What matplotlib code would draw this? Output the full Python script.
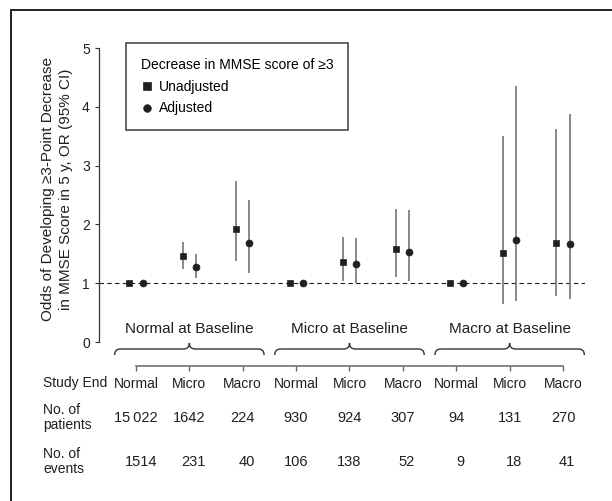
import matplotlib
matplotlib.use('Agg')
import matplotlib.pyplot as plt
from matplotlib.lines import Line2D
from matplotlib.path import Path
from matplotlib import patches, transforms
import numpy as np

plt.rcParams['font.family'] = ['Liberation Sans', 'DejaVu Sans']

# data
baseline_groups = ['Normal at Baseline', 'Micro at Baseline', 'Macro at Baseline']
study_end = ['Normal', 'Micro', 'Macro'] * 3

unadj = [1.00, 1.46, 1.93, 1.00, 1.355, 1.59, 1.00, 1.51, 1.68]
unadj_lo = [np.nan, 1.25, 1.37, np.nan, 1.04, 1.105, np.nan, 0.64, 0.79]
unadj_hi = [np.nan, 1.695, 2.74, np.nan, 1.79, 2.27, np.nan, 3.51, 3.63]

adj = [1.00, 1.28, 1.69, 1.00, 1.33, 1.525, 1.00, 1.735, 1.67]
adj_lo = [np.nan, 1.09, 1.18, np.nan, 1.00, 1.04, np.nan, 0.70, 0.73]
adj_hi = [np.nan, 1.50, 2.41, np.nan, 1.77, 2.245, np.nan, 4.35, 3.88]

n_patients = ['15\u2009022', '1642', '224', '930', '924', '307', '94', '131', '270']
n_events = ['1514', '231', '40', '106', '138', '52', '9', '18', '41']

dark = '#231f20'
grey = '#747474'
W, H = 612, 501

fig = plt.figure(figsize=(W / 100, H / 100), dpi=100)
ax = fig.add_axes([99 / W, 159 / H, 486 / W, 294 / H])

x = np.arange(len(study_end))
off = 0.122
ax.axhline(1, color=dark, lw=0.8, ls=(0, (4, 3)), zorder=1)
ax.vlines(x - off, unadj_lo, unadj_hi, color=grey, lw=1.2, zorder=2)
ax.vlines(x + off, adj_lo, adj_hi, color=grey, lw=1.2, zorder=2)
ax.plot(x - off, unadj, 's', color=dark, ms=5, mew=0.5, zorder=3, clip_on=False)
ax.plot(x + off, adj, 'o', color=dark, ms=5, mew=0.5, zorder=3, clip_on=False)

ax.set_xlim(-0.693, 8.412)
ax.set_ylim(0, 5)
ax.spines[['top', 'right']].set_visible(False)
ax.spines['left'].set_color('#333333')
ax.spines['left'].set_linewidth(0.9)
ax.spines['bottom'].set_position(('outward', 17.3))
ax.spines['bottom'].set_bounds(0, 8)
ax.spines['bottom'].set_color('#666666')
ax.spines['bottom'].set_linewidth(1.1)

ax.set_yticks(range(6))
ax.tick_params(axis='y', length=3, width=0.8, pad=3.6, labelsize=10, color='#333333', labelcolor=dark)
ax.set_xticks(x, study_end)
ax.tick_params(axis='x', length=3.5, width=1, pad=4.6, labelsize=10, color='#666666', labelcolor=dark)

ax.set_ylabel('Odds of Developing \u22653-Point Decrease\nin MMSE Score in 5 y, OR (95% CI)',
              fontsize=11, linespacing=1.35, color=dark)
ax.yaxis.set_label_coords(-0.053, 0.52)

# curly braces under each baseline group
def brace(x0, x1, yb, ym, yt, r):
    xm = (x0 + x1) / 2
    verts = [(x0, yb), (x0, ym), (x0 + r, ym),
             (xm - r, ym), (xm, ym), (xm, yt),
             (xm, ym), (xm + r, ym),
             (x1 - r, ym), (x1, ym), (x1, yb)]
    codes = [Path.MOVETO, Path.CURVE3, Path.CURVE3,
             Path.LINETO, Path.CURVE3, Path.CURVE3,
             Path.CURVE3, Path.CURVE3,
             Path.LINETO, Path.CURVE3, Path.CURVE3]
    return patches.PathPatch(Path(verts, codes), fill=False, ec='#333333', lw=1, clip_on=False)

for g, name in enumerate(baseline_groups):
    c = 3 * g + 1
    ax.add_patch(brace(c - 1.4, c + 1.4, -0.221, -0.119, -0.017, 0.11))
    ax.text(c, 0.148, name, ha='center', va='baseline', fontsize=11, color=dark)

# table rows under the axis (y given as last-line baselines, in pixels from the top)
trans = transforms.blended_transform_factory(ax.transData, fig.transFigure)
fig.text(43 / W, 1 - 387.3 / H, 'Study End', fontsize=10, va='baseline', color=dark)
fig.text(43 / W, 1 - 429.3 / H, 'No. of\npatients', fontsize=10, va='baseline', linespacing=1.1, color=dark)
fig.text(43 / W, 1 - 473.3 / H, 'No. of\nevents', fontsize=10, va='baseline', linespacing=1.1, color=dark)

renderer = fig.canvas.get_renderer()
for i, xi in enumerate(x):
    cells = [n_patients[i], n_events[i]]
    probe = [fig.text(0, 0, s, fontsize=10.5) for s in cells]
    half = max(t.get_window_extent(renderer).width for t in probe) / 2
    for t in probe:
        t.remove()
    for s, yb in zip(cells, [421.7, 466]):
        ax.annotate(s, xy=(xi, 1 - yb / H), xycoords=trans,
                    xytext=(half * 72 / fig.dpi, 0), textcoords='offset points',
                    ha='right', va='baseline', fontsize=10.5, color=dark)

# legend
handles = [Line2D([], [], ls='none', marker='s', color=dark, ms=5.5, mew=0.5),
           Line2D([], [], ls='none', marker='o', color=dark, ms=5.5, mew=0.5)]
leg = ax.legend(handles, ['Unadjusted', 'Adjusted'], title='Decrease in MMSE score of \u22653',
                loc='upper left', bbox_to_anchor=(126 / W, 1 - 43 / H), bbox_transform=fig.transFigure,
                alignment='left', fontsize=10, title_fontsize=10, frameon=True, fancybox=False,
                edgecolor='#3a3a3a', framealpha=1, borderpad=1.05, borderaxespad=0,
                handlelength=0.9, handletextpad=0.4, labelspacing=0.57)
leg.get_frame().set_linewidth(1.1)

# outer frame (only top and left edges fall inside the image)
fig.add_artist(patches.Rectangle((11 / W, -0.1), 1.2, 1 - 10 / H + 0.1, transform=fig.transFigure,
                                 fill=False, lw=1.4, ec=dark, clip_on=False))

fig.savefig('out.png', dpi=100)
